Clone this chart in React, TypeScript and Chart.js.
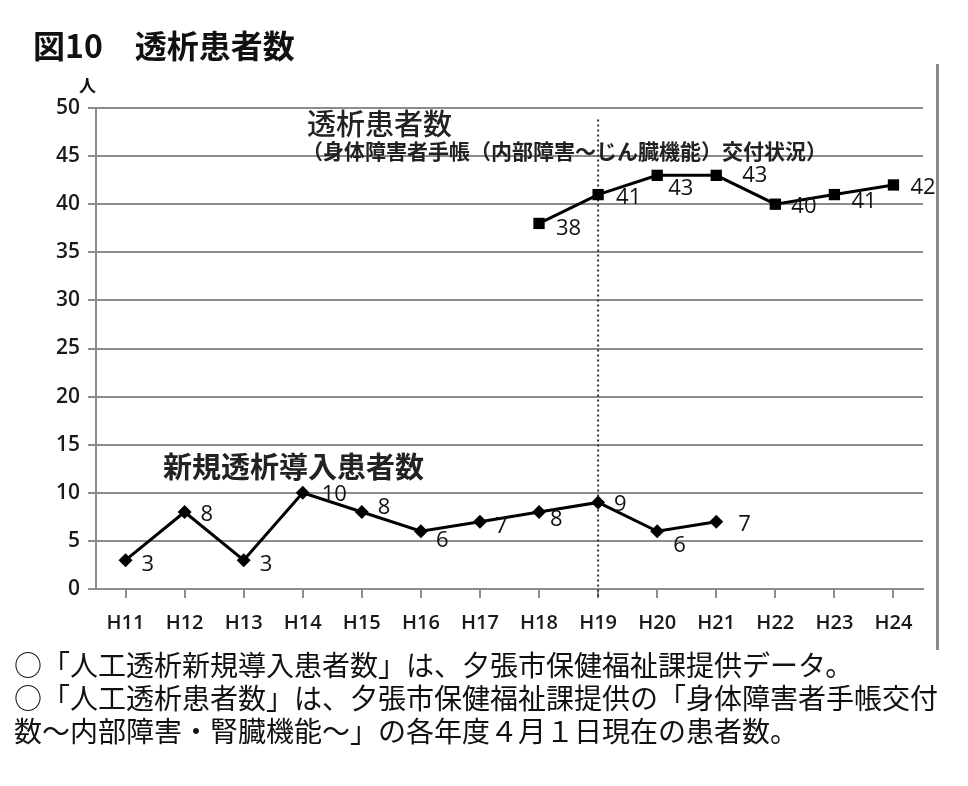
import React, { useEffect, useRef } from "react";
import { Chart, registerables } from "chart.js";

Chart.register(...registerables);

const categories = ["H11", "H12", "H13", "H14", "H15", "H16", "H17", "H18", "H19", "H20", "H21", "H22", "H23", "H24"];
const newPatients = [3, 8, 3, 10, 8, 6, 7, 8, 9, 6, 7, null, null, null];
const totalPatients = [null, null, null, null, null, null, null, 38, 41, 43, 43, 40, 41, 42];
const yTicksMin = 0;
const yTicksMax = 50;
const yTicksStep = 5;
const dividerCategory = "H19";
const dividerTopValue = 48.8;

const titleText = "図10　透析患者数";
const unitText = "人";
const totalLabel = "透析患者数";
const totalSubLabel = "（身体障害者手帳（内部障害～じん臓機能）交付状況）";
const newLabel = "新規透析導入患者数";
const footerLines = [
  "○「人工透析新規導入患者数」は、夕張市保健福祉課提供データ。",
  "○「人工透析患者数」は、夕張市保健福祉課提供の「身体障害者手帳交付",
  "数～内部障害・腎臓機能～」の各年度４月１日現在の患者数。",
];

// label nudges (style only), [dx, dy] in px
const newLabelNudge = [[16, 5], [16, 3], [16, 5], [19, 2], [16, -4], [15, 9], [15, 5], [11, 8], [16, 2], [16, 14], [22, 3], [0, 0], [0, 0], [0, 0]];
const totalLabelNudge = [[0, 0], [0, 0], [0, 0], [0, 0], [0, 0], [0, 0], [0, 0], [17, 5], [18, 3], [11, 13], [26, 0], [16, 3], [17, 7], [17, 3]];

const GRID = "#8c8c8c";
const CJK = '"Noto Sans CJK JP", "Noto Sans", sans-serif';
const NUM = '"Open Sans", "Noto Sans", sans-serif';

export default function App() {
  const ref = useRef<HTMLCanvasElement | null>(null);

  useEffect(() => {
    const canvas = ref.current;
    if (!canvas) return;

    const labelPlugin = {
      id: "pointLabels",
      afterDatasetsDraw(chart: any) {
        const ctx = chart.ctx;
        ctx.save();
        ctx.font = `500 22px ${NUM}`;
        ctx.fillStyle = "#111";
        ctx.textAlign = "left";
        ctx.textBaseline = "middle";
        chart.data.datasets.forEach((ds: any, di: number) => {
          const meta = chart.getDatasetMeta(di);
          const nudges = di === 0 ? newLabelNudge : totalLabelNudge;
          meta.data.forEach((pt: any, i: number) => {
            const v = ds.data[i];
            if (v === null || v === undefined) return;
            const [dx, dy] = nudges[i];
            ctx.fillText(String(v), pt.x + dx, pt.y + dy);
          });
        });
        ctx.restore();
      },
    };

    const dividerPlugin = {
      id: "divider",
      beforeDatasetsDraw(chart: any) {
        const x = chart.scales.x.getPixelForValue(categories.indexOf(dividerCategory));
        const yTop = chart.scales.y.getPixelForValue(dividerTopValue);
        const yBot = chart.chartArea.bottom + 9;
        const ctx = chart.ctx;
        ctx.save();
        ctx.strokeStyle = "#333";
        ctx.lineWidth = 2;
        ctx.setLineDash([2, 3]);
        ctx.beginPath();
        ctx.moveTo(x, yTop);
        ctx.lineTo(x, yBot);
        ctx.stroke();
        ctx.restore();
      },
    };

    const chart = new Chart(canvas, {
      type: "line",
      data: {
        labels: categories,
        datasets: [
          {
            label: newLabel,
            data: newPatients,
            borderColor: "#000",
            backgroundColor: "#000",
            borderWidth: 3,
            pointStyle: "rectRot",
            pointRadius: 7,
            pointBorderWidth: 0,
            pointBackgroundColor: "#000",
            spanGaps: false,
          },
          {
            label: totalLabel,
            data: totalPatients,
            borderColor: "#000",
            backgroundColor: "#000",
            borderWidth: 3,
            pointStyle: "rect",
            pointRadius: 8,
            pointBorderWidth: 0,
            pointBackgroundColor: "#000",
            spanGaps: false,
          },
        ],
      },
      options: {
        responsive: false,
        animation: false,
        devicePixelRatio: 1,
        layout: { padding: { left: 40, top: 108, right: 45, bottom: 147 } },
        plugins: { legend: { display: false }, tooltip: { enabled: false }, title: { display: false } },
        scales: {
          x: {
            type: "category",
            offset: true,
            afterFit: (s: any) => { s.height = 50; },
            grid: {
              display: true,
              drawOnChartArea: false,
              drawTicks: true,
              tickLength: 9,
              offset: false,
              color: GRID,
              lineWidth: 2,
            },
            border: { display: true, color: GRID, width: 2 },
            ticks: {
              padding: 13,
              color: "#1a1a1a",
              font: { family: NUM, size: 20, weight: "600" },
              maxRotation: 0,
              autoSkip: false,
            },
          },
          y: {
            min: yTicksMin,
            max: yTicksMax,
            afterFit: (s: any) => { s.width = 56; },
            grid: {
              color: GRID,
              lineWidth: 2,
              drawTicks: true,
              tickLength: 8,
            },
            border: { display: true, color: GRID, width: 2 },
            ticks: {
              stepSize: yTicksStep,
              padding: 8,
              color: "#1a1a1a",
              font: { family: NUM, size: 21, weight: "600" },
            },
          },
        },
      },
      plugins: [dividerPlugin, labelPlugin],
    } as any);

    return () => chart.destroy();
  }, []);

  return (
    <div style={{ position: "fixed", left: 0, top: 0, width: 968, height: 786, background: "#fff", overflow: "hidden" }}>
      <canvas ref={ref} width={968} height={786} style={{ position: "absolute", left: 0, top: 0, width: 968, height: 786 }} />
      <div style={{ position: "absolute", left: 33, top: 22, fontFamily: CJK, fontWeight: 700, fontSize: 32, lineHeight: "44px", color: "#111", whiteSpace: "pre" }}>
        {titleText}
      </div>
      <div style={{ position: "absolute", left: 79, top: 75, fontFamily: CJK, fontWeight: 700, fontSize: 17, lineHeight: "20px", color: "#111" }}>
        {unitText}
      </div>
      <div style={{ position: "absolute", left: 307, top: 103, fontFamily: CJK, fontWeight: 500, fontSize: 29, lineHeight: "38px", color: "#222", whiteSpace: "nowrap" }}>
        {totalLabel}
      </div>
      <div style={{ position: "absolute", left: 302, top: 136, fontFamily: CJK, fontWeight: 700, fontSize: 21, lineHeight: "28px", color: "#222", whiteSpace: "nowrap" }}>
        {totalSubLabel}
      </div>
      <div style={{ position: "absolute", left: 163, top: 446, fontFamily: CJK, fontWeight: 700, fontSize: 29, lineHeight: "38px", color: "#222", whiteSpace: "nowrap" }}>
        {newLabel}
      </div>
      <div style={{ position: "absolute", left: 936, top: 64, width: 3, height: 586, background: "#8a8a8a" }} />
      <div style={{ position: "absolute", left: 14, top: 648, fontFamily: CJK, fontWeight: 400, fontSize: 28, lineHeight: "33px", color: "#111", whiteSpace: "nowrap" }}>
        {footerLines.map((l, i) => (
          <div key={i}>{l}</div>
        ))}
      </div>
    </div>
  );
}
